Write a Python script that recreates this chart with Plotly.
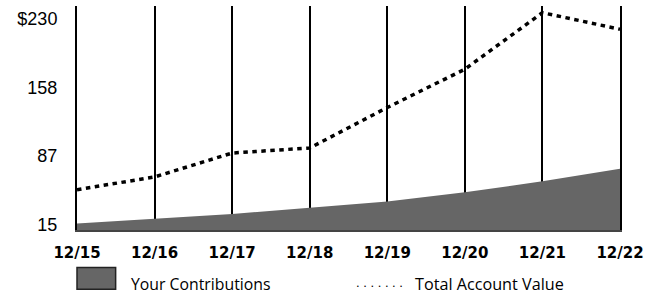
import plotly.graph_objects as go

# Data
years = ["12/15", "12/16", "12/17", "12/18", "12/19", "12/20", "12/21", "12/22"]
contributions = [16, 21, 26, 32.5, 39, 48.7, 60.2, 73.4]
total_value = [51.5, 64.8, 89.8, 95.1, 137.4, 177.5, 236.6, 219.3]
y_tick_vals = [15, 86.67, 158.33, 230]
y_tick_text = ["15", "87", "158", "$230"]

x = list(range(len(years)))

L, R, T, B = 77, 25, 6, 64.5
PW, PH = 650 - L - R, 295 - T - B


def px_x(p):
    return (p - L) / PW


def px_y(p):
    return (295 - B - p) / PH


fig = go.Figure()
fig.add_trace(go.Scatter(
    x=x, y=contributions, mode="lines", fill="tozeroy",
    fillcolor="#666666", line=dict(width=0, color="#666666"),
    name="Your Contributions", showlegend=False, hoverinfo="skip",
))
fig.add_trace(go.Scatter(
    x=x, y=total_value, mode="lines",
    line=dict(color="black", width=3.5, dash="4.5px,4.5px"),
    name="Total Account Value", showlegend=False,
))

fig.update_xaxes(
    range=[0, len(years) - 1], tickvals=x, ticktext=years,
    showgrid=True, gridcolor="black", gridwidth=2,
    showline=True, linecolor="#444444", linewidth=2,
    ticks="", zeroline=False, ticklabelstandoff=8,
    tickfont=dict(family="DejaVu Sans", size=15, color="black", weight="bold"),
)
fig.update_yaxes(
    range=[9.3, 243.6], tickvals=y_tick_vals, ticktext=y_tick_text,
    showgrid=False, zeroline=False, showline=True, mirror=True,
    linecolor="black", linewidth=2, ticks="", ticklabelstandoff=14,
    tickfont=dict(family="Liberation Sans", size=18, color="black"),
)

# custom legend
fig.add_shape(type="rect", xref="paper", yref="paper",
              x0=px_x(77), x1=px_x(116), y0=px_y(268), y1=px_y(290),
              fillcolor="#666666", line=dict(color="#222222", width=1.5))
fig.add_annotation(xref="paper", yref="paper", x=px_x(129), y=px_y(284.5),
                   text="Your Contributions", showarrow=False, xanchor="left", yanchor="middle",
                   font=dict(family="Open Sans", size=15.8, color="black"))
fig.add_annotation(xref="paper", yref="paper", x=px_x(357), y=px_y(283.5),
                   text=". . . . . . .", showarrow=False, xanchor="left", yanchor="middle",
                   font=dict(family="Liberation Sans", size=13, color="black"))
fig.add_annotation(xref="paper", yref="paper", x=px_x(416), y=px_y(284.5),
                   text="Total Account Value", showarrow=False, xanchor="left", yanchor="middle",
                   font=dict(family="Open Sans", size=16.2, color="black"))

fig.update_layout(
    width=650, height=295,
    margin=dict(l=L, r=R, t=T, b=B),
    plot_bgcolor="white", paper_bgcolor="white",
    showlegend=False,
)

fig.write_html("out.html", config={"displayModeBar": False},
               post_script="document.body.style.margin='0';")
